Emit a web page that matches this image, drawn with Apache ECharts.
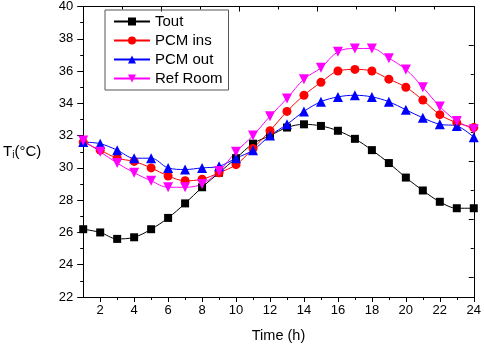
<!DOCTYPE html>
<html>
<head>
<meta charset="utf-8">
<script src="https://cdn.jsdelivr.net/npm/echarts@6/dist/echarts.min.js"></script>
<style>
  html, body { margin: 0; padding: 0; background: #fff; }
  #main { width: 484px; height: 348px; }
</style>
</head>
<body>
<div id="main"></div>
<script>
var hours = [1, 2, 3, 4, 5, 6, 7, 8, 9, 10, 11, 12, 13, 14, 15, 16, 17, 18, 19, 20, 21, 22, 23, 24]
var tout = [26.2, 26.0, 25.6, 25.7, 26.2, 26.9, 27.8, 28.8, 29.7, 30.6, 31.5, 32.0, 32.5, 32.7, 32.6, 32.3, 31.8, 31.1, 30.3, 29.4, 28.6, 27.9, 27.5, 27.5]
var pcmIns = [31.6, 31.1, 30.6, 30.4, 30.0, 29.5, 29.2, 29.3, 29.7, 30.2, 31.2, 32.3, 33.5, 34.5, 35.3, 36.0, 36.1, 36.0, 35.5, 35.0, 34.2, 33.3, 32.8, 32.5]
var pcmOut = [31.6, 31.5, 31.1, 30.6, 30.6, 30.0, 29.9, 30.0, 30.1, 30.6, 31.1, 32.0, 32.7, 33.5, 34.1, 34.4, 34.5, 34.4, 34.1, 33.6, 33.1, 32.7, 32.6, 31.9]
var refRoom = [31.7, 31.0, 30.3, 29.7, 29.2, 28.8, 28.8, 29.0, 29.8, 31.0, 32.0, 33.2, 34.3, 35.5, 36.2, 37.2, 37.4, 37.4, 36.8, 36.1, 35.0, 33.8, 32.9, 32.4]

// tick labels / tick positions
var xMajor = [2, 4, 6, 8, 10, 12, 14, 16, 18, 20, 22, 24]
var xMinor = [3, 5, 7, 9, 11, 13, 15, 17, 19, 21, 23]
var topMajor = [5.6, 10.2, 14.8, 19.4]
var topMinor = [3.3, 7.9, 12.5, 17.1, 21.7]
var rightMajor = [23.2, 26.8, 30.4, 34.0, 37.6]
var rightMinor = [25.0, 28.6, 32.2, 35.8]

var font = 'Liberation Sans, Arial, sans-serif'

function pairs (ys) {
  return hours.map(function (h, i) { return [h, ys[i]] })
}

function mkSeries (name, data, color, symbol, size, rotate) {
  return {
    name: name,
    type: 'line',
    smooth: 0.35,
    data: pairs(data),
    symbol: symbol,
    symbolSize: size,
    symbolRotate: rotate || 0,
    showAllSymbol: true,
    xAxisIndex: 0,
    yAxisIndex: 0,
    itemStyle: { color: color },
    lineStyle: { color: color, width: 1 },
    animation: false
  }
}

function hiddenX (pos, ticks, len, inside) {
  return {
    type: 'value', position: pos, min: 1, max: 24,
    axisLine: { show: false },
    axisTick: { show: true, inside: inside, length: len, customValues: ticks, lineStyle: { color: '#000' } },
    axisLabel: { show: false },
    splitLine: { show: false }
  }
}

function hiddenY (pos, ticks, len, inside) {
  return {
    type: 'value', position: pos, min: 22, max: 40,
    axisLine: { show: false },
    axisTick: { show: true, inside: inside, length: len, customValues: ticks, lineStyle: { color: '#000' } },
    axisLabel: { show: false },
    splitLine: { show: false }
  }
}

var chart = echarts.init(document.getElementById('main'))
chart.setOption({
  animation: false,
  textStyle: { fontFamily: font },
  grid: { left: 79, right: 7, top: 5, bottom: 46 },
  legend: {
    left: 105,
    top: 10,
    orient: 'vertical',
    itemWidth: 36,
    itemHeight: 10,
    itemGap: 4,
    padding: [4, 6, 4, 8],
    borderColor: '#555',
    borderWidth: 1,
    textStyle: { fontSize: 15, color: '#000', fontFamily: font },
    data: ['Tout', 'PCM ins', 'PCM out', 'Ref Room']
  },
  xAxis: [
    {
      type: 'value', position: 'bottom', min: 1, max: 24,
      name: 'Time (h)', nameLocation: 'middle', nameGap: 31,
      nameTextStyle: { fontSize: 14.5, color: '#000' },
      axisLine: { show: true, lineStyle: { color: '#000', width: 1 } },
      axisTick: { show: true, length: 5, customValues: xMajor, lineStyle: { color: '#000' } },
      axisLabel: { customValues: xMajor, fontSize: 13, color: '#000', margin: 7 },
      splitLine: { show: false }
    },
    hiddenX('bottom', xMinor, 3, false),
    {
      type: 'value', position: 'top', min: 1, max: 24,
      axisLine: { show: true, lineStyle: { color: '#000', width: 1 } },
      axisTick: { show: true, inside: true, length: 5, customValues: topMajor, lineStyle: { color: '#000' } },
      axisLabel: { show: false },
      splitLine: { show: false }
    },
    hiddenX('top', topMinor, 3, true)
  ],
  yAxis: [
    {
      type: 'value', position: 'left', min: 22, max: 40, interval: 2,
      name: '{t|T}{s|i}{t|(°C)}', nameLocation: 'middle', nameRotate: 0, nameGap: 42,
      nameTextStyle: {
        rich: {
          t: { fontSize: 15, color: '#000', fontFamily: font },
          s: { fontSize: 10, color: '#000', fontFamily: font, padding: [6, 0, 0, 0] }
        }
      },
      axisLine: { show: true, lineStyle: { color: '#000', width: 1 } },
      axisTick: { show: true, length: 6, lineStyle: { color: '#000' } },
      minorTick: { show: true, splitNumber: 2, length: 3, lineStyle: { color: '#000' } },
      axisLabel: { fontSize: 13, color: '#000', margin: 10 },
      splitLine: { show: false }
    },
    {
      type: 'value', position: 'right', min: 22, max: 40,
      axisLine: { show: true, lineStyle: { color: '#000', width: 1 } },
      axisTick: { show: true, inside: true, length: 5, customValues: rightMajor, lineStyle: { color: '#000' } },
      axisLabel: { show: false },
      splitLine: { show: false }
    },
    hiddenY('right', rightMinor, 3, true)
  ],
  series: [
    mkSeries('Tout', tout, '#000000', 'rect', 8),
    mkSeries('PCM ins', pcmIns, '#ff0000', 'circle', 9),
    mkSeries('PCM out', pcmOut, '#0000ff', 'triangle', 10),
    mkSeries('Ref Room', refRoom, '#ff00ff', 'triangle', 10, 180)
  ]
})
</script>
</body>
</html>
